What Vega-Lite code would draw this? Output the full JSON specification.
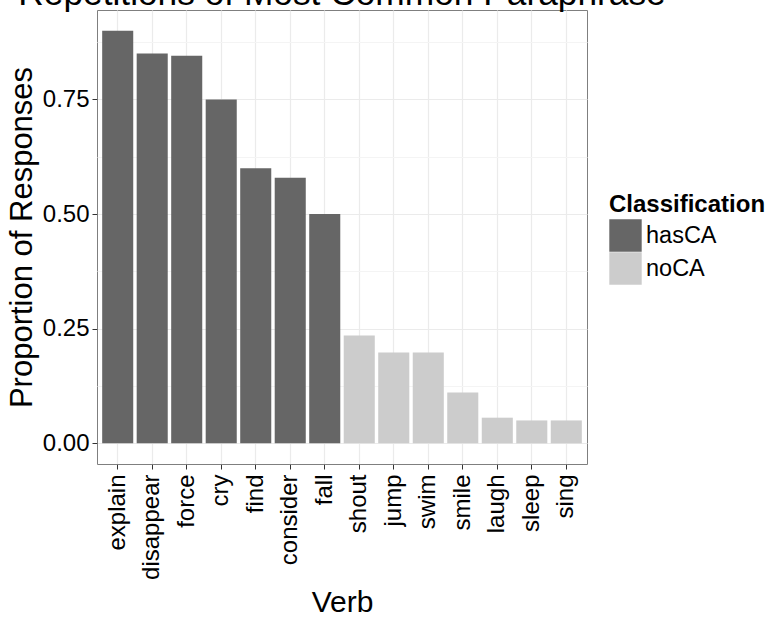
{
  "$schema": "https://vega.github.io/schema/vega-lite/v6.json",
  "autosize": {"type": "none"},
  "width": 490,
  "height": 454,
  "padding": {"left": 97, "top": 10, "right": 186, "bottom": 153},
  "background": "white",
  "title": {
    "text": "Repetitions of Most Common Paraphrase",
    "font": "Liberation Sans",
    "fontSize": 35.3,
    "fontWeight": "normal",
    "color": "black",
    "anchor": "middle",
    "baseline": "alphabetic",
    "offset": 0,
    "dy": 30
  },
  "data": {
    "values": [
      {"Verb": "explain", "Proportion": 0.9, "Classification": "hasCA"},
      {"Verb": "disappear", "Proportion": 0.85, "Classification": "hasCA"},
      {"Verb": "force", "Proportion": 0.845, "Classification": "hasCA"},
      {"Verb": "cry", "Proportion": 0.75, "Classification": "hasCA"},
      {"Verb": "find", "Proportion": 0.6, "Classification": "hasCA"},
      {"Verb": "consider", "Proportion": 0.579, "Classification": "hasCA"},
      {"Verb": "fall", "Proportion": 0.5, "Classification": "hasCA"},
      {"Verb": "shout", "Proportion": 0.235, "Classification": "noCA"},
      {"Verb": "jump", "Proportion": 0.198, "Classification": "noCA"},
      {"Verb": "swim", "Proportion": 0.198, "Classification": "noCA"},
      {"Verb": "smile", "Proportion": 0.111, "Classification": "noCA"},
      {"Verb": "laugh", "Proportion": 0.056, "Classification": "noCA"},
      {"Verb": "sleep", "Proportion": 0.05, "Classification": "noCA"},
      {"Verb": "sing", "Proportion": 0.05, "Classification": "noCA"}
    ]
  },
  "mark": {"type": "bar"},
  "encoding": {
    "x": {
      "field": "Verb",
      "type": "nominal",
      "sort": null,
      "scale": {"paddingInner": 0.1, "paddingOuter": 0.15},
      "axis": {
        "title": "Verb",
        "bandPosition": 0.5,
        "labelAngle": -90,
        "labelAlign": "right",
        "labelBaseline": "middle",
        "labelFont": "Liberation Sans",
        "labelFontSize": 24,
        "labelColor": "black",
        "labelPadding": 5,
        "tickSize": 5,
        "tickColor": "#333333",
        "domain": false,
        "grid": true,
        "gridColor": "#ebebeb",
        "gridWidth": 1.2,
        "titleFont": "Liberation Sans",
        "titleFontSize": 30,
        "titleFontWeight": "normal",
        "titleColor": "black",
        "titlePadding": 8
      }
    },
    "y": {
      "field": "Proportion",
      "type": "quantitative",
      "scale": {"domain": [-0.045, 0.945], "nice": false, "zero": false},
      "axis": {
        "title": "Proportion of Responses",
        "values": [0, 0.125, 0.25, 0.375, 0.5, 0.625, 0.75, 0.875],
        "labelExpr": "datum.value * 4 == floor(datum.value * 4) ? format(datum.value, '.2f') : ''",
        "labelFont": "Liberation Sans",
        "labelFontSize": 24,
        "labelColor": "black",
        "labelPadding": 3,
        "tickSize": 5,
        "tickColor": "#333333",
        "tickOpacity": {"condition": {"test": "datum.value * 4 != floor(datum.value * 4)", "value": 0}, "value": 1},
        "gridColor": {"condition": {"test": "datum.value * 4 != floor(datum.value * 4)", "value": "#f4f4f4"}, "value": "#ebebeb"},
        "gridWidth": 1.2,
        "domain": false,
        "titleFont": "Liberation Sans",
        "titleFontSize": 31,
        "titleFontWeight": "normal",
        "titleColor": "black",
        "titlePadding": 4
      }
    },
    "color": {
      "field": "Classification",
      "type": "nominal",
      "scale": {"domain": ["hasCA", "noCA"], "range": ["#666666", "#cccccc"]},
      "legend": {
        "orient": "none",
        "legendX": 512,
        "legendY": 183,
        "title": "Classification",
        "titleFont": "Liberation Sans",
        "titleFontSize": 24,
        "titleFontWeight": "bold",
        "titleColor": "black",
        "titlePadding": 2,
        "symbolType": "square",
        "symbolSize": 1050,
        "symbolStrokeWidth": 0,
        "labelFont": "Liberation Sans",
        "labelFontSize": 23.5,
        "labelColor": "black",
        "labelOffset": 4,
        "rowPadding": 0
      }
    }
  },
  "config": {
    "view": {"stroke": "#7f7f7f", "strokeWidth": 1},
    "axis": {"gridCap": "butt"}
  }
}
